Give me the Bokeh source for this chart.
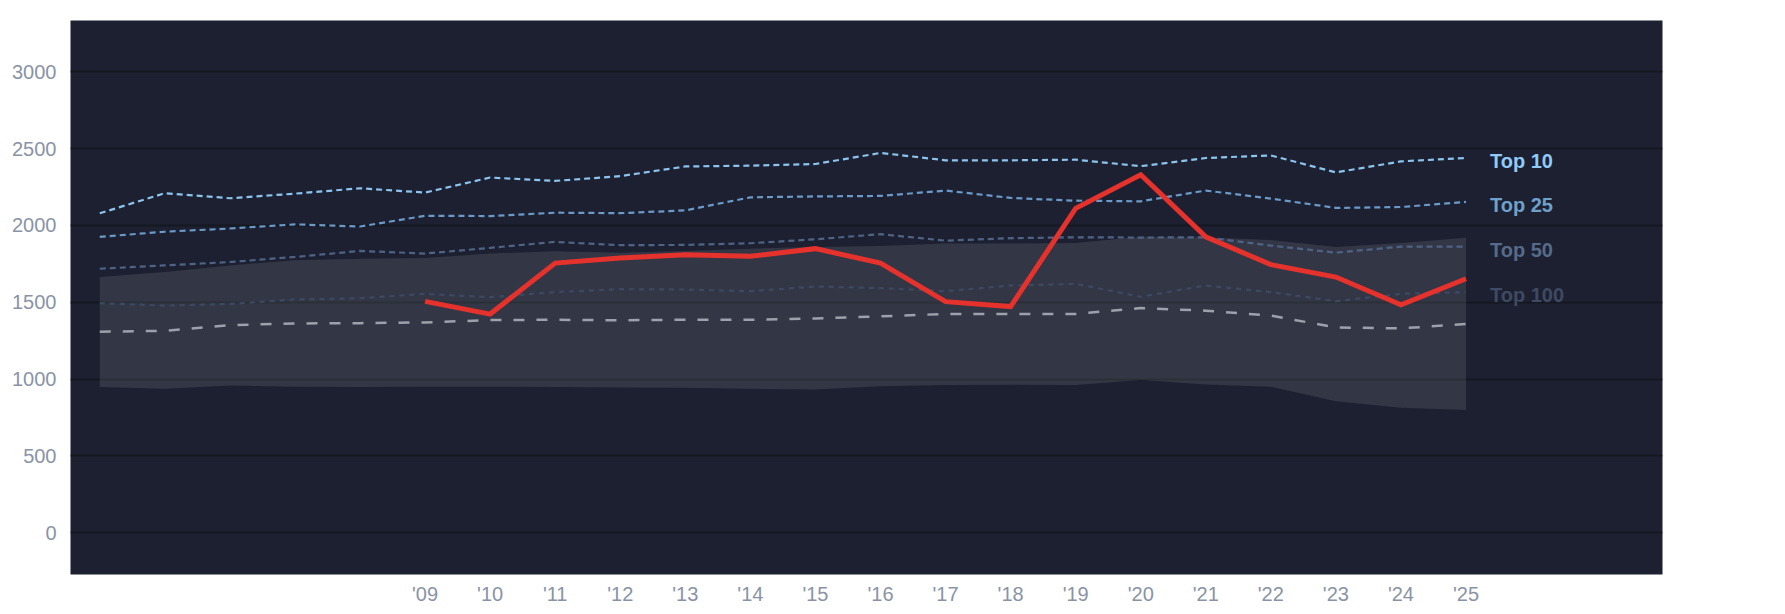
from bokeh.plotting import figure
from bokeh.models import Range1d, FixedTicker
from bokeh.core.properties import value
from bokeh.embed import file_html
from bokeh.resources import INLINE

years = list(range(2004, 2026))
top10 = [2079, 2210, 2177, 2207, 2242, 2214, 2312, 2290, 2321, 2384, 2389, 2400,
         2472, 2424, 2424, 2428, 2386, 2439, 2456, 2345, 2417, 2439]
top25 = [1926, 1959, 1980, 2007, 1993, 2063, 2061, 2083, 2080, 2098, 2183, 2189,
         2192, 2227, 2179, 2161, 2157, 2227, 2175, 2114, 2120, 2153]
top50 = [1718, 1740, 1762, 1795, 1834, 1817, 1854, 1893, 1872, 1873, 1884, 1910,
         1943, 1901, 1917, 1923, 1921, 1923, 1869, 1823, 1862, 1862]
top100 = [1494, 1478, 1489, 1518, 1526, 1555, 1533, 1566, 1585, 1583, 1572, 1603,
          1592, 1572, 1609, 1620, 1536, 1609, 1566, 1507, 1555, 1566]
median = [1308, 1314, 1351, 1362, 1364, 1369, 1384, 1386, 1383, 1386, 1386, 1395,
          1408, 1424, 1424, 1424, 1462, 1445, 1413, 1336, 1330, 1358]
band_hi = [1664, 1697, 1740, 1773, 1784, 1788, 1817, 1832, 1823, 1834, 1849, 1860,
           1867, 1882, 1882, 1886, 1926, 1922, 1905, 1860, 1885, 1920]
band_lo = [948, 937, 959, 950, 948, 950, 950, 948, 945, 943, 937, 932,
           954, 961, 963, 961, 994, 965, 950, 856, 813, 798]
red_years = list(range(2009, 2026))
red_vals = [1506, 1423, 1755, 1788, 1810, 1799, 1849, 1755, 1504, 1472, 2111,
            2330, 1926, 1745, 1664, 1483, 1653]
tick_years = list(range(2009, 2026))
tick_labels = ["'09", "'10", "'11", "'12", "'13", "'14", "'15", "'16", "'17",
               "'18", "'19", "'20", "'21", "'22", "'23", "'24", "'25"]
y_ticks = [0, 500, 1000, 1500, 2000, 2500, 3000]
series_names = ["Top 10", "Top 25", "Top 50", "Top 100"]

BG = "#1c2030"
GRID = "#141821"
TICK = "#8a93a6"
FONT = "Liberation Sans"

p = figure(frame_width=1592, frame_height=554, output_backend="svg",
           toolbar_location=None,
           x_range=Range1d(2003.55, 2028.02), y_range=Range1d(-272, 3334),
           min_border_left=70, min_border_right=94, min_border_top=20,
           min_border_bottom=30)
p.background_fill_color = BG
p.border_fill_color = "white"
p.outline_line_color = None

p.xgrid.grid_line_color = None
p.ygrid.grid_line_color = GRID
p.ygrid.grid_line_width = 2
p.ygrid.ticker = FixedTicker(ticks=y_ticks)

p.yaxis.ticker = FixedTicker(ticks=y_ticks)
p.xaxis.ticker = FixedTicker(ticks=tick_years)
p.xaxis.major_label_overrides = {y: l for y, l in zip(tick_years, tick_labels)}
for ax in (p.xaxis, p.yaxis):
    ax.axis_line_color = None
    ax.major_tick_line_color = None
    ax.minor_tick_line_color = None
    ax.major_tick_out = 0
    ax.major_tick_in = 0
    ax.minor_tick_out = 0
    ax.minor_tick_in = 0
    ax.major_label_text_color = TICK
    ax.major_label_text_font = FONT
    ax.major_label_text_font_size = "20px"
p.yaxis.major_label_standoff = 14
p.xaxis.major_label_standoff = 8

# range band
p.varea(x=years, y1=band_lo, y2=band_hi, fill_color="white", fill_alpha=0.1)

# median
p.line(years, median, line_color="#9ca1ab", line_width=2.5, line_dash="11 12")

line_colors = ["#8cc4ee", "#6b9ac8", "#4f6385", "#3d4962"]
label_colors = ["#90caf9", "#6fa0cc", "#566b8a", "#3e4a62"]
dashes = ["6 4", "6 4", "6 4", "5 5"]
series = [top10, top25, top50, top100]
for vals, c, d in zip(series, line_colors, dashes):
    p.line(years, vals, line_color=c, line_width=2.2, line_dash=d)

# highlighted series
p.line(red_years, red_vals, line_color="#e5322d", line_width=5, line_join="miter")

# end labels
p.text(x=[years[-1]] * 4, y=[s[-1] for s in series], text=series_names,
       text_color=label_colors, text_font=value(FONT), text_font_style="bold",
       text_font_size="20px", text_baseline="middle", text_align="left",
       x_offset=24, y_offset=3)

open("out.html", "w").write(file_html(p, INLINE))
